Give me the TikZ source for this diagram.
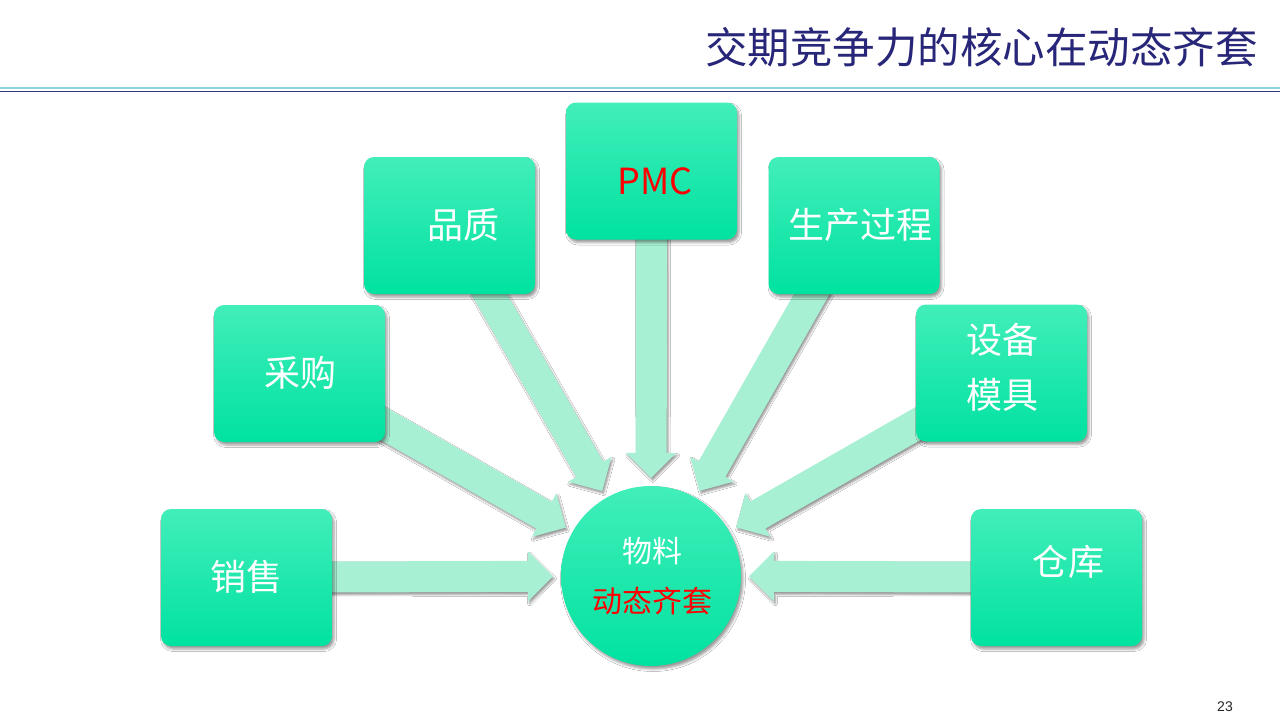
\documentclass[tikz,border=0pt]{standalone}
\usepackage{fontspec}
\newfontfamily\cjk{Noto Sans CJK SC}
\newfontfamily\numfont{Liberation Sans}
\usetikzlibrary{calc,shadows.blur}
\pgfdeclarelayer{bg}
\pgfsetlayers{bg,main}
\definecolor{boxtop}{RGB}{66,238,186}
\definecolor{boxbot}{RGB}{0,226,160}
\definecolor{arrowfill}{RGB}{168,240,212}
\definecolor{titlec}{RGB}{40,38,120}
\definecolor{linecA}{RGB}{140,212,218}
\definecolor{linecB}{RGB}{45,58,128}
\newcommand\blockarrow[2]{%
  \coordinate (hb) at ($(#2)!25pt!(#1)$);
  \fill[arrowbody] ($(#1)!15.5pt!90:(#2)$) -- ($(hb)!15.5pt!90:(#2)$) -- ($(hb)!25pt!90:(#2)$) -- (#2)
    -- ($(hb)!25pt!-90:(#2)$) -- ($(hb)!15.5pt!-90:(#2)$) -- ($(#1)!15.5pt!-90:(#2)$) -- cycle;}
\begin{document}
\begin{tikzpicture}[x=1pt,y=-1pt,
  box/.style={rounded corners=10pt, minimum width=171pt, minimum height=137pt, inner sep=0pt,
    top color=boxtop, bottom color=boxbot, draw=none,
    blur shadow={shadow xshift=2pt, shadow yshift=-3pt, shadow blur radius=2.5pt, shadow opacity=40}},
  hub/.style={circle, minimum size=180pt, inner sep=0pt, top color=boxtop, bottom color=boxbot, draw=none,
    blur shadow={shadow xshift=2pt, shadow yshift=-3pt, shadow blur radius=2.5pt, shadow opacity=40}},
  lbl/.style={font=\cjk\fontsize{36}{40}\selectfont, text=white, inner sep=0pt, align=center},
  hublbl/.style={font=\cjk\fontsize{30}{34}\selectfont, inner sep=0pt},
  arrowbody/.style={fill=arrowfill,
    blur shadow={shadow xshift=1.5pt, shadow yshift=-2.5pt, shadow blur radius=2pt, shadow opacity=40}}]
\useasboundingbox (0,0) rectangle (1280,720);
% title and rules
\node[anchor=east, font=\cjk\fontsize{42.5}{46}\selectfont, text=titlec, inner sep=0pt] (title) at (1258,47) {交期竞争力的核心在动态齐套};
\draw[linecA, line width=2pt] (0,88) -- (1280,88);
\draw[linecB, line width=1.8pt] (0,91.5) -- (1280,91.5);
% boxes
\node[box] (pz) at (449.5,225.5) {};
\node[box] (pmc) at (651.5,171) {};
\node[box] (sc) at (854,225.5) {};
\node[box] (cg) at (299.5,373.5) {};
\node[box] (sb) at (1001.5,373) {};
\node[box] (xs) at (246.5,577.5) {};
\node[box] (ck) at (1056.5,577.5) {};
\node[hub] (hub) at (651,576) {};
% labels
\node[lbl] at (463,225) {品质};
\node[lbl, text=red] at (655,181) {PMC};
\node[lbl] at (860,225) {生产过程};
\node[lbl] at (300,373) {采购};
\node[lbl] at (1002,340) {设备};
\node[lbl] at (1002,395) {模具};
\node[lbl] at (246,577) {销售};
\node[lbl] at (1068,562) {仓库};
\node[hublbl, text=white] at (652,551) {物料};
\node[hublbl, text=red] at (652,601) {动态齐套};
% arrow tails
\coordinate (tpz) at (484,285);
\coordinate (tpmc) at (651.5,232);
\coordinate (tsc) at (817,285);
\coordinate (tcg) at (375,419);
\coordinate (tsb) at (926,419);
\coordinate (txs) at (325,577);
\coordinate (tck) at (978,577);
% arrow tips
\foreach \t in {tpz,tpmc,tsc,tcg,tsb,txs,tck}{\coordinate (\t-tip) at ($(hub.center)!98pt!(\t)$);}
\begin{pgfonlayer}{bg}
\fill[white] (0,0) rectangle (1280,720);
\blockarrow{tpz}{tpz-tip}
\blockarrow{tpmc}{tpmc-tip}
\blockarrow{tsc}{tsc-tip}
\blockarrow{tcg}{tcg-tip}
\blockarrow{tsb}{tsb-tip}
\blockarrow{txs}{txs-tip}
\blockarrow{tck}{tck-tip}
\end{pgfonlayer}
\node[font=\numfont\fontsize{14}{16}\selectfont, text=black!85, inner sep=0pt] (pg) at (1225,707) {23};
\end{tikzpicture}
\end{document}
